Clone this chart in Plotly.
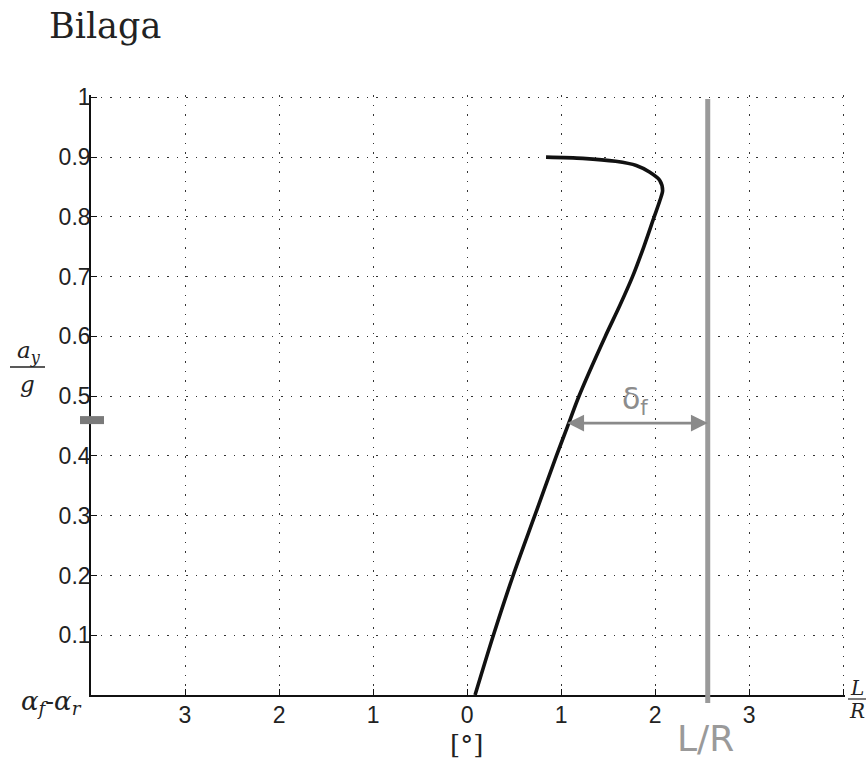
import plotly.graph_objects as go

# ---- data ----
ay_over_g = [0.0, 0.1, 0.2, 0.3, 0.4, 0.45, 0.5, 0.6, 0.65, 0.7, 0.75, 0.8, 0.827, 0.844,
             0.861, 0.875, 0.886, 0.893, 0.898, 0.90]
slip_diff = [0.085, 0.28, 0.49, 0.72, 0.95, 1.07, 1.19, 1.47, 1.62, 1.76, 1.88, 1.99, 2.05, 2.08,
             2.05, 1.94, 1.80, 1.58, 1.23, 0.84]

x_tickvals = [-3, -2, -1, 0, 1, 2, 3, 4]
x_ticktext = ["3", "2", "1", "0", "1", "2", "3", ""]
y_tickvals = [0.1, 0.2, 0.3, 0.4, 0.5, 0.6, 0.7, 0.8, 0.9, 1.0]
y_ticktext = ["0.1", "0.2", "0.3", "0.4", "0.5", "0.6", "0.7", "0.8", "0.9", "1"]

L_over_R = 2.56          # hand-drawn vertical line
arrow_y = 0.455          # delta_f arrow height
arrow_x_left = 1.05
blob_y = 0.46

# body margin is removed in the page, so figure pixels == screen pixels
FIG_W, FIG_H = 867, 764
L, T, W, H = 91, 95, 754, 600

def px(xs):  # screen x -> paper x
    return (xs - L) / W

def py(ys):  # screen y -> paper y
    return (T + H - ys) / H

fig = go.Figure()

fig.add_trace(go.Scatter(
    x=slip_diff, y=ay_over_g, mode="lines",
    line=dict(color="#111111", width=3.6, shape="spline", smoothing=0.8),
    hoverinfo="skip", showlegend=False,
))

grid = dict(showgrid=True, gridcolor="#333333", gridwidth=1.4, griddash="1.5px,8px")
tickfont = dict(family="Liberation Sans, Arial, sans-serif", size=23, color="#222222")

fig.update_layout(
    width=FIG_W, height=FIG_H, autosize=False,
    margin=dict(l=L, r=FIG_W - L - W, t=T, b=FIG_H - T - H),
    paper_bgcolor="white", plot_bgcolor="white",
    showlegend=False,
    title=dict(text="Bilaga", x=49 / FIG_W, xanchor="left",
               y=1 - 26 / FIG_H, yanchor="middle",
               xref="container", yref="container",
               font=dict(family="DejaVu Serif, serif", size=35, color="#222222")),
    xaxis=dict(range=[-4, 4.02], tickvals=x_tickvals, ticktext=x_ticktext,
               showline=True, linecolor="#111111", linewidth=1.6,
               ticks="inside", ticklen=6, tickcolor="#111111", tickwidth=1.2,
               tickfont=tickfont, ticklabelstandoff=-1, zeroline=False, **grid),
    yaxis=dict(range=[0, 1.004], tickvals=y_tickvals, ticktext=y_ticktext,
               showline=True, linecolor="#111111", linewidth=1.6,
               ticks="inside", ticklen=6, tickcolor="#111111", tickwidth=1.2,
               tickfont=tickfont, ticklabelstandoff=-6, zeroline=False, **grid),
)

shapes = []
# hand-drawn vertical L/R line
shapes.append(dict(type="line", xref="x", yref="paper", x0=L_over_R, x1=L_over_R,
                   y0=py(703), y1=py(99), line=dict(color="#9a9a9a", width=5)))
# gray blob on the y-axis
shapes.append(dict(type="line", xref="paper", yref="y", x0=px(80), x1=px(104),
                   y0=blob_y, y1=blob_y, line=dict(color="#7a7a7a", width=8)))
# fraction bars
shapes.append(dict(type="line", xref="paper", yref="paper", x0=px(848), x1=px(866),
                   y0=py(699), y1=py(699), line=dict(color="#222222", width=1.2)))
shapes.append(dict(type="line", xref="paper", yref="paper", x0=px(10), x1=px(45),
                   y0=py(367), y1=py(367), line=dict(color="#222222", width=1.4)))
fig.update_layout(shapes=shapes)

serif = "DejaVu Serif, serif"
C = dict(xanchor="center", yanchor="middle", showarrow=False, xref="paper", yref="paper")
ann = []
# delta_f arrow (both ends)
ann.append(dict(x=L_over_R, y=arrow_y, ax=arrow_x_left, ay=arrow_y, xref="x", yref="y",
                axref="x", ayref="y", text="", showarrow=True, arrowside="end+start",
                arrowhead=2, arrowsize=1.2, arrowwidth=2.8, arrowcolor="#8a8a8a",
                standoff=0, startstandoff=0))
ann.append(dict(x=1.79, y=0.493, xref="x", yref="y", xanchor="center", yanchor="middle",
                text="δ<sub>f</sub>", showarrow=False,
                font=dict(family="DejaVu Sans, sans-serif", size=30, color="#8c8c8c")))
# handwritten L/R
ann.append(dict(x=px(705), y=py(738), text="L/R",
                font=dict(family="DejaVu Sans, sans-serif", size=36, color="#9a9a9a"), **C))
# x-axis unit
ann.append(dict(x=px(466), y=py(745), text="[°]",
                font=dict(family=serif, size=26, color="#222222"), **C))
# alpha_f - alpha_r
ann.append(dict(x=px(51), y=py(702), text="<i>α<sub>f</sub></i>-<i>α<sub>r</sub></i>",
                font=dict(family=serif, size=26, color="#222222"), **C))
# L / R fraction at right end of x-axis
ann.append(dict(x=px(857), y=py(688), text="<i>L</i>",
                font=dict(family=serif, size=20, color="#222222"), **C))
ann.append(dict(x=px(857), y=py(711), text="<i>R</i>",
                font=dict(family=serif, size=20, color="#222222"), **C))
# a_y / g
ann.append(dict(x=px(29), y=py(352), text="<i>a<sub>y</sub></i>",
                font=dict(family=serif, size=23, color="#222222"), **C))
ann.append(dict(x=px(27), y=py(384), text="<i>g</i>",
                font=dict(family=serif, size=23, color="#222222"), **C))
fig.update_layout(annotations=ann)

fig.write_html("out.html", config={"displayModeBar": False},
               post_script="document.body.style.margin='0';document.body.style.overflow='hidden';")
